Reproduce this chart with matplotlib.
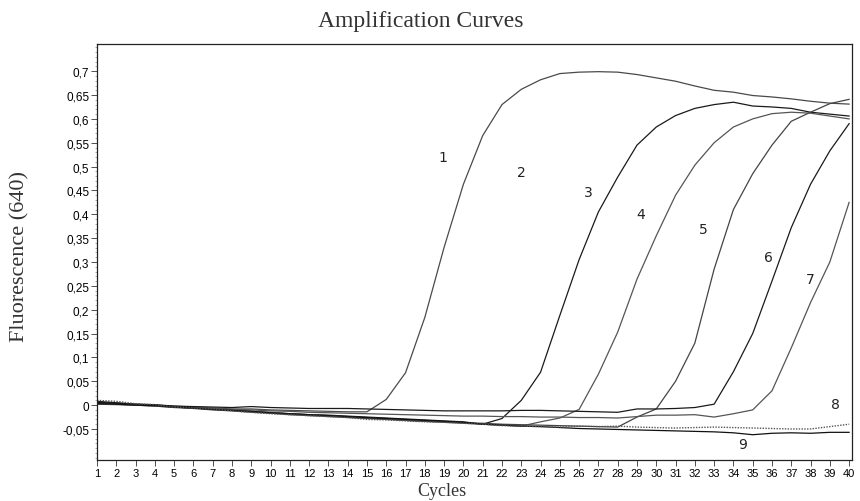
import numpy as np
import matplotlib
matplotlib.use("Agg")
import matplotlib.pyplot as plt
from matplotlib.ticker import MultipleLocator

cycles = list(range(1, 41))

curve1 = [0.006, 0.004, 0.001, 0.000, -0.002, -0.004, -0.006, -0.008, -0.008, -0.010,
          -0.011, -0.012, -0.013, -0.014, -0.014, 0.012, 0.068, 0.184, 0.331, 0.463,
          0.565, 0.630, 0.662, 0.682, 0.695, 0.698, 0.699, 0.698, 0.693, 0.686,
          0.679, 0.669, 0.660, 0.656, 0.649, 0.646, 0.642, 0.637, 0.633, 0.631]

curve3 = [0.008, 0.005, 0.002, 0.000, -0.004, -0.006, -0.008, -0.011, -0.013, -0.016,
          -0.018, -0.020, -0.021, -0.023, -0.025, -0.027, -0.029, -0.031, -0.033, -0.035,
          -0.040, -0.028, 0.010, 0.069, 0.188, 0.305, 0.405, 0.478, 0.545, 0.583,
          0.607, 0.622, 0.630, 0.635, 0.627, 0.625, 0.622, 0.614, 0.610, 0.606]

curve4 = [0.004, 0.003, 0.001, -0.001, -0.003, -0.006, -0.008, -0.010, -0.013, -0.015,
          -0.018, -0.020, -0.022, -0.025, -0.027, -0.029, -0.032, -0.034, -0.036, -0.038,
          -0.040, -0.042, -0.044, -0.035, -0.027, -0.009, 0.065, 0.153, 0.264, 0.355,
          0.440, 0.503, 0.550, 0.583, 0.600, 0.611, 0.614, 0.612, 0.606, 0.600]

curve5 = [0.003, 0.002, 0.000, -0.002, -0.005, -0.007, -0.010, -0.012, -0.015, -0.017,
          -0.020, -0.022, -0.024, -0.026, -0.028, -0.030, -0.032, -0.034, -0.035, -0.037,
          -0.038, -0.040, -0.041, -0.042, -0.043, -0.044, -0.045, -0.046, -0.025, -0.008,
          0.050, 0.130, 0.285, 0.410, 0.485, 0.545, 0.595, 0.614, 0.632, 0.641]

curve6 = [0.006, 0.004, 0.002, 0.001, -0.002, -0.003, -0.004, -0.005, -0.003, -0.005,
          -0.006, -0.007, -0.007, -0.007, -0.008, -0.009, -0.010, -0.011, -0.012, -0.012,
          -0.012, -0.012, -0.011, -0.011, -0.012, -0.013, -0.014, -0.015, -0.008, -0.008,
          -0.007, -0.005, 0.002, 0.070, 0.150, 0.260, 0.372, 0.463, 0.533, 0.590]

curve7 = [0.002, 0.001, 0.000, -0.002, -0.004, -0.006, -0.007, -0.009, -0.010, -0.012,
          -0.013, -0.015, -0.016, -0.017, -0.018, -0.019, -0.020, -0.021, -0.022, -0.023,
          -0.023, -0.024, -0.024, -0.025, -0.025, -0.026, -0.026, -0.027, -0.024, -0.021,
          -0.021, -0.020, -0.025, -0.018, -0.010, 0.030, 0.120, 0.215, 0.300, 0.425]

curve8 = [0.010, 0.008, 0.003, 0.001, -0.004, -0.006, -0.008, -0.012, -0.015, -0.018,
          -0.020, -0.022, -0.024, -0.026, -0.030, -0.031, -0.033, -0.035, -0.036, -0.038,
          -0.040, -0.043, -0.044, -0.045, -0.046, -0.044, -0.045, -0.044, -0.046, -0.047,
          -0.048, -0.047, -0.046, -0.047, -0.048, -0.049, -0.050, -0.050, -0.045, -0.040]

curve9 = [0.003, 0.002, 0.000, -0.001, -0.004, -0.006, -0.009, -0.011, -0.013, -0.016,
          -0.018, -0.020, -0.022, -0.024, -0.026, -0.028, -0.030, -0.032, -0.034, -0.036,
          -0.040, -0.042, -0.044, -0.045, -0.047, -0.049, -0.050, -0.051, -0.052, -0.053,
          -0.054, -0.055, -0.056, -0.058, -0.062, -0.059, -0.058, -0.059, -0.057, -0.057]

solid_curves = [curve1, curve3, curve4, curve5, curve6, curve7, curve9]
solid_colors = ["#4a4a4a", "#1a1a1a", "#555555", "#444444", "#1a1a1a", "#555555", "#111111"]

label_texts = ["1", "2", "3", "4", "5", "6", "7", "8", "9"]
label_pos = [(18.95, 0.52), (23.0, 0.488), (26.47, 0.446), (29.2, 0.40), (32.43, 0.369),
             (35.8, 0.31), (38.0, 0.264), (39.28, 0.002), (34.5, -0.082)]

yticks = [-0.05, 0.0, 0.05, 0.1, 0.15, 0.2, 0.25, 0.3, 0.35, 0.4, 0.45, 0.5, 0.55, 0.6, 0.65, 0.7]
ytick_labels = ["-0,05", "0", "0,05", "0,1", "0,15", "0,2", "0,25", "0,3", "0,35", "0,4",
                "0,45", "0,5", "0,55", "0,6", "0,65", "0,7"]

fig = plt.figure(figsize=(8.6, 5.02), dpi=100)
ax = fig.add_axes([97/860, 1 - 461/502, (852 - 97)/860, (461 - 45)/502])

for data, col in zip(solid_curves, solid_colors):
    ax.plot(cycles, data, color=col, lw=0.9, solid_joinstyle="round")
ax.plot(cycles, curve8, color="#555555", lw=1.0, linestyle=(0, (1, 1)))

ax.set_xlim(1, 40.15)
ax.set_ylim(-0.115, 0.757)

ax.set_xticks(cycles)
ax.set_xticklabels([str(c) for c in cycles], family="Liberation Sans", fontsize=8)
ax.set_yticks(yticks)
ax.set_yticklabels(ytick_labels, family="Liberation Sans", fontsize=8.5)
ax.yaxis.set_minor_locator(MultipleLocator(0.01))
ax.tick_params(axis="both", which="major", direction="out", length=4, width=0.6, pad=1.5, color="#333333")
ax.tick_params(axis="y", which="minor", direction="out", length=1.5, width=0.5, color="#888888")
for sp in ax.spines.values():
    sp.set_linewidth(0.9)
    sp.set_color("#222222")

for t, (cx, cy) in zip(label_texts, label_pos):
    ax.text(cx, cy, t, fontsize=10, family="DejaVu Sans", ha="center", va="center", color="#222222")

fig.text(421/860, 1 - 22/502, "Amplification Curves", family="Liberation Serif", fontsize=17,
         ha="center", va="center", color="#333333")
fig.text(20/860, 1 - 257/502, "Fluorescence (640)", family="Liberation Serif", fontsize=16,
         ha="center", va="center", rotation=90, color="#333333")
fig.text(442/860, 1 - 492/502, "Cycles", family="Liberation Serif", fontsize=13,
         ha="center", va="center", color="#333333")

fig.savefig("out.png", dpi=100)
